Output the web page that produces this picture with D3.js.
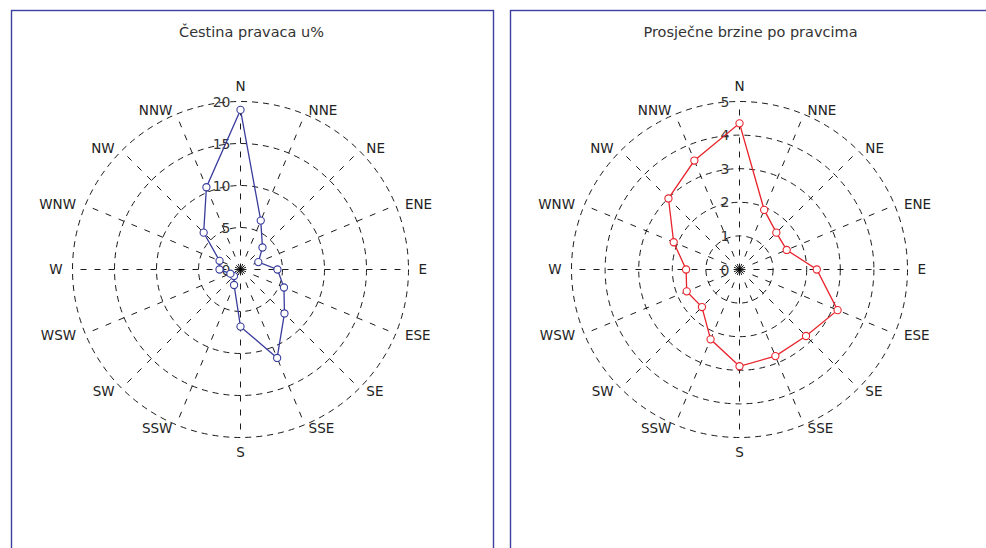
<!DOCTYPE html>
<html>
<head>
<meta charset="utf-8">
<script src="https://cdn.jsdelivr.net/npm/d3@7"></script>
<style>
  html, body { margin: 0; padding: 0; background: #fff; }
  svg { display: block; }
  text { font-family: "DejaVu Sans", Verdana, sans-serif; }
</style>
</head>
<body>
<svg id="chart" width="986" height="548"></svg>
<script>
// Wind directions, clockwise from north
const directions = ["N","NNE","NE","ENE","E","ESE","SE","SSE","S","SSW","SW","WSW","W","WNW","NW","NNW"];

// Frequency of each direction, in percent
const frequency = [19.0, 6.3, 3.7, 2.3, 4.4, 5.6, 7.4, 11.4, 6.8, 2.0, 1.1, 1.3, 2.5, 2.7, 6.2, 10.6];

// Mean wind speed for each direction
const meanSpeed = [4.35, 1.92, 1.55, 1.52, 2.30, 3.16, 2.80, 2.79, 2.88, 2.25, 1.58, 1.70, 1.59, 2.12, 2.99, 3.51];

// Ring values for each chart
const frequencyRings = [0, 5, 10, 15, 20];
const speedRings = [0, 1, 2, 3, 4, 5];

const titles = ["Čestina pravaca u%", "Prosječne brzine po pravcima"];

const svg = d3.select("#chart");
const R = 168;

const panels = [
  { x: 11.5, title: titles[0], values: frequency, rings: frequencyRings, max: 20, color: "#3a3d9c" },
  { x: 510.5, title: titles[1], values: meanSpeed, rings: speedRings, max: 5, color: "#e8232b" }
];

panels.forEach(p => {
  const g = svg.append("g");
  const w = 482;

  g.append("rect")
    .attr("x", p.x).attr("y", 10.5)
    .attr("width", w).attr("height", 600)
    .attr("fill", "none")
    .attr("stroke", "#3b3f9f")
    .attr("stroke-width", 1.4);

  g.append("text")
    .attr("x", p.x + w / 2 - 1)
    .attr("y", 37)
    .attr("text-anchor", "middle")
    .attr("font-size", 14.5)
    .attr("fill", "#333")
    .text(p.title);

  const cx = p.x + 229;
  const cy = 269.5;
  const r = d3.scaleLinear().domain([0, p.max]).range([0, R]);
  const angle = d3.scalePoint().domain(directions).range([0, 2 * Math.PI * 15 / 16]);

  const plot = g.append("g").attr("transform", `translate(${cx},${cy})`);

  // dashed rings
  plot.selectAll("circle.ring")
    .data(p.rings.filter(v => v > 0))
    .join("circle")
    .attr("class", "ring")
    .attr("r", d => r(d))
    .attr("fill", "none")
    .attr("stroke", "#000")
    .attr("stroke-width", 0.9)
    .attr("stroke-dasharray", "6,5");

  // dashed spokes
  plot.selectAll("line.spoke")
    .data(directions)
    .join("line")
    .attr("class", "spoke")
    .attr("x1", 0).attr("y1", 0)
    .attr("x2", d => R * Math.sin(angle(d)))
    .attr("y2", d => -R * Math.cos(angle(d)))
    .attr("stroke", "#000")
    .attr("stroke-width", 0.9)
    .attr("stroke-dasharray", "6,8");

  // ring value labels
  plot.selectAll("text.ringlabel")
    .data(p.rings)
    .join("text")
    .attr("class", "ringlabel")
    .attr("x", -10)
    .attr("y", d => -r(d))
    .attr("dy", "0.36em")
    .attr("text-anchor", "end")
    .attr("font-size", 14)
    .attr("fill", "#333")
    .text(d => d);

  // direction labels
  plot.selectAll("text.dir")
    .data(directions)
    .join("text")
    .attr("class", "dir")
    .attr("x", d => 178 * Math.sin(angle(d)))
    .attr("y", d => {
      const a = angle(d), s = Math.sin(a), c = Math.cos(a);
      return -172 * c - (Math.abs(s) < 0.01 ? 11 * Math.sign(c) : 0);
    })
    .attr("dy", "0.36em")
    .attr("text-anchor", d => {
      const s = Math.sin(angle(d));
      return s > 0.01 ? "start" : (s < -0.01 ? "end" : "middle");
    })
    .attr("font-size", 13.5)
    .attr("fill", "#222")
    .text(d => d);

  // data polygon
  const line = d3.lineRadial()
    .angle((d, i) => angle(directions[i]))
    .radius(d => r(d))
    .curve(d3.curveLinearClosed);

  plot.append("path")
    .datum(p.values)
    .attr("d", line)
    .attr("fill", "none")
    .attr("stroke", p.color)
    .attr("stroke-width", 1.3);

  plot.selectAll("circle.pt")
    .data(p.values)
    .join("circle")
    .attr("class", "pt")
    .attr("cx", (d, i) => r(d) * Math.sin(angle(directions[i])))
    .attr("cy", (d, i) => -r(d) * Math.cos(angle(directions[i])))
    .attr("r", 3.6)
    .attr("fill", "#fff")
    .attr("stroke", p.color)
    .attr("stroke-width", 1.1);
});
</script>
</body>
</html>
